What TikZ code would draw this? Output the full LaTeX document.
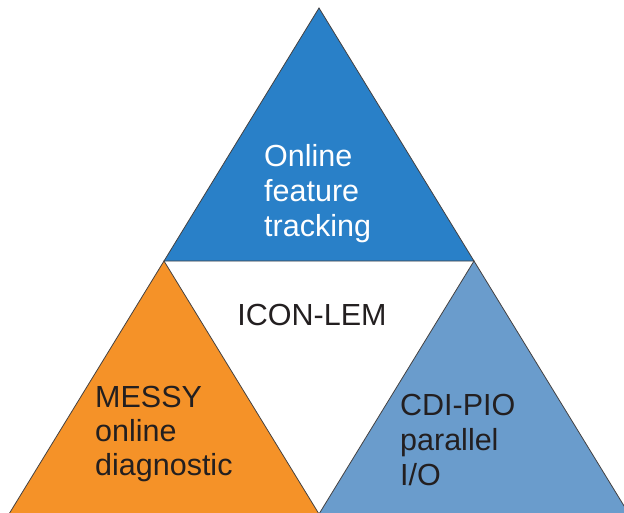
\documentclass[tikz,border=0pt]{standalone}
\usepackage{fontspec}
\setmainfont{Liberation Sans}
\usepackage{tikz}
\usetikzlibrary{positioning, calc}
\definecolor{trackcolor}{RGB}{41,128,200}
\definecolor{messycolor}{RGB}{245,146,40}
\definecolor{piocolor}{RGB}{106,156,204}
\definecolor{textdark}{RGB}{35,31,32}

\begin{document}
\begin{tikzpicture}[
    x=1pt, y=-1pt,
    part/.style={draw=textdark!85, line width=0.8pt, line join=miter},
    label/.style={font=\fontsize{30.5}{35}\selectfont, align=left, inner sep=0pt, anchor=base west}
]
    \useasboundingbox (0,0) rectangle (624,512);
    \clip (0,0) rectangle (624,512);

    % Corners
    \coordinate (top) at (319,8);
    \coordinate (midleft) at (164,261);
    \coordinate (midright) at (474,261);
    \coordinate (botleft) at (9,514);
    \coordinate (botmid) at (319,514);
    \coordinate (botright) at (629,514);

    % Triangles
    \filldraw[part, fill=trackcolor] (top) -- (midleft) -- (midright) -- cycle;
    \filldraw[part, fill=messycolor] (midleft) -- (botleft) -- (botmid) -- cycle;
    \filldraw[part, fill=piocolor] (midright) -- (botmid) -- (botright) -- cycle;

    % Labels (anchored on the last line's baseline)
    \node[label, text=white] (tracking) at (264,236) {Online\\feature\\tracking};
    \node[label, text=textdark, anchor=base] (iconlem) at (312,325) {ICON-LEM};
    \node[label, text=textdark, font=\fontsize{30.5}{34}\selectfont] (messy) at (95,475) {MESSY\\online\\diagnostic};
    \node[label, text=textdark] (cdipio) at (400,485) {CDI-PIO\\parallel\\I/O};
\end{tikzpicture}
\end{document}
